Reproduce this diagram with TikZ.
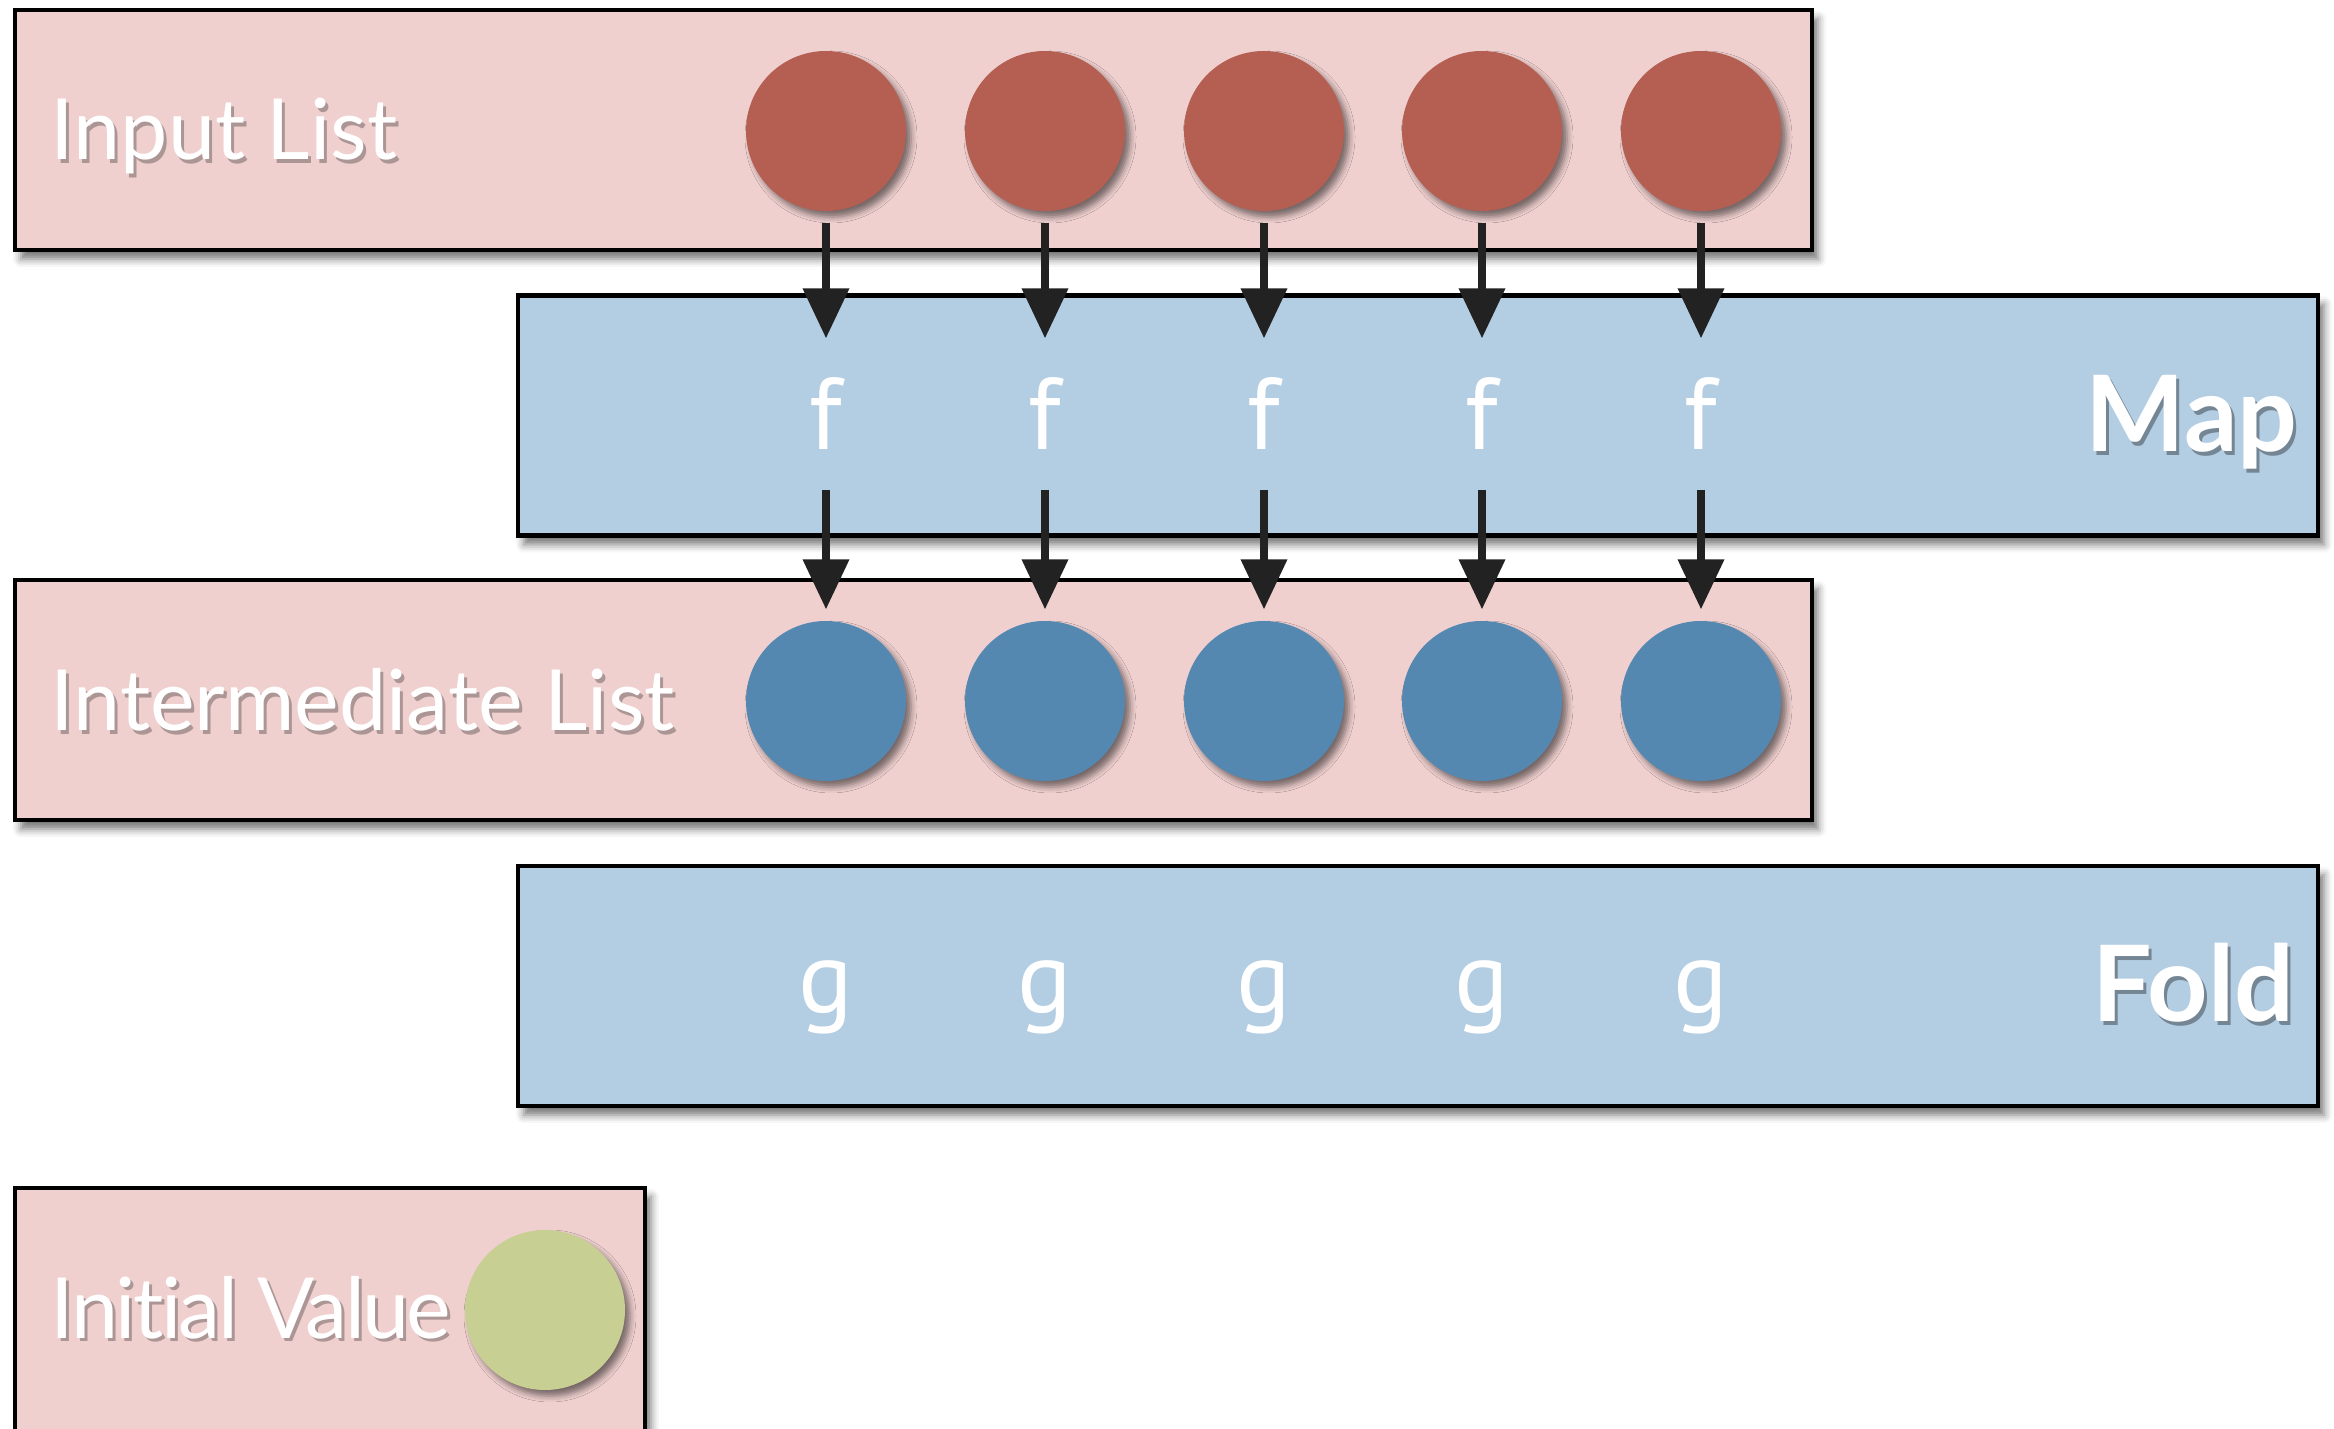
\documentclass[tikz,border=0pt]{standalone}
\usepackage{fontspec}
\setmainfont{Lato}[Ligatures=NoCommon]
\newfontfamily\fnfont{PT Sans}
\usetikzlibrary{arrows.meta,shadows.blur}

\definecolor{listpink}{HTML}{EFD0CF}
\definecolor{stepblue}{HTML}{B3CDE3}
\definecolor{inred}{HTML}{B55F52}
\definecolor{midblue}{HTML}{5488B1}
\definecolor{initgreen}{HTML}{C8CF93}
\definecolor{arrowgray}{HTML}{222222}

% white text with a soft offset copy behind it
\newcommand{\txtshadow}[2]{\rlap{\hspace{0.03cm}\raisebox{-0.035cm}{\textcolor{#1}{#2}}}#2}

\tikzset{
  listbox/.style={draw=black, line width=1.4pt, fill=listpink,
    minimum width=17.97cm, minimum height=2.4cm,
    blur shadow={shadow xshift=0.06cm, shadow yshift=-0.09cm, shadow blur radius=0.08cm, shadow opacity=55}},
  stepbox/.style={listbox, fill=stepblue, minimum width=18cm},
  elem/.style={circle, minimum size=1.6cm, inner sep=0pt,
    blur shadow={shadow xshift=0.05cm, shadow yshift=-0.06cm, shadow blur radius=0.06cm, shadow opacity=50}},
  fn/.style={text=white, inner sep=0pt, font=\fnfont\fontsize{29}{34}\selectfont},
  lbl/.style={text=white, inner sep=0pt, anchor=base west, font=\fontsize{24}{29}\selectfont},
  stage/.style={text=white, inner sep=0pt, anchor=base east, font=\fontsize{30}{34}\selectfont\bfseries},
  flow/.style={->, arrowgray, line width=2.1pt},
  >={Triangle[width=0.45cm, length=0.5cm]}
}

\begin{document}
\begin{tikzpicture}
    \useasboundingbox (0,0) rectangle (23.34,14.28);

    % boxes
    \node[listbox] (input) at (9.135,12.98) {};
    \node[stepbox] (map) at (14.18,10.125) {};
    \node[listbox] (inter) at (9.135,7.28) {};
    \node[stepbox] (fold) at (14.18,4.42) {};
    \node[listbox, minimum width=6.3cm, minimum height=2.6cm] (init) at (3.30,1.10) {};

    % box labels
    \node[lbl] (inputlbl) at (0.50,12.68) {\txtshadow{listpink!72!black}{Input List}};
    \node[lbl] (interlbl) at (0.50,6.97) {\txtshadow{listpink!72!black}{Intermediate List}};
    \node[lbl] (initlbl) at (0.50,0.90) {\addfontfeatures{LetterSpace=-3}\txtshadow{listpink!72!black}{Initial Value}};
    \node[stage] (maplbl) at (22.98,9.76) {\txtshadow{stepblue!65!black}{Map}};
    \node[stage] (foldlbl) at (22.95,4.06) {\txtshadow{stepblue!65!black}{Fold}};

    % input elements
    \node[elem, fill=inred] (in1) at (8.26,12.97) {};
    \node[elem, fill=inred] (in2) at (10.45,12.97) {};
    \node[elem, fill=inred] (in3) at (12.64,12.97) {};
    \node[elem, fill=inred] (in4) at (14.82,12.97) {};
    \node[elem, fill=inred] (in5) at (17.01,12.97) {};

    % mapped function
    \node[fn, minimum height=1.5cm] (f1) at (8.26,10.14) {f};
    \node[fn, minimum height=1.5cm] (f2) at (10.45,10.14) {f};
    \node[fn, minimum height=1.5cm] (f3) at (12.64,10.14) {f};
    \node[fn, minimum height=1.5cm] (f4) at (14.82,10.14) {f};
    \node[fn, minimum height=1.5cm] (f5) at (17.01,10.14) {f};

    % intermediate elements
    \node[elem, fill=midblue] (mid1) at (8.26,7.27) {};
    \node[elem, fill=midblue] (mid2) at (10.45,7.27) {};
    \node[elem, fill=midblue] (mid3) at (12.64,7.27) {};
    \node[elem, fill=midblue] (mid4) at (14.82,7.27) {};
    \node[elem, fill=midblue] (mid5) at (17.01,7.27) {};

    % fold function
    \node[fn, anchor=base] (g1) at (8.26,4.15) {g};
    \node[fn, anchor=base] (g2) at (10.45,4.15) {g};
    \node[fn, anchor=base] (g3) at (12.64,4.15) {g};
    \node[fn, anchor=base] (g4) at (14.82,4.15) {g};
    \node[fn, anchor=base] (g5) at (17.01,4.15) {g};

    \node[elem, fill=initgreen] (seed) at (5.45,1.18) {};

    % input -> f
    \draw[flow, shorten <=0.11cm] (in1) -- (f1);
    \draw[flow, shorten <=0.11cm] (in2) -- (f2);
    \draw[flow, shorten <=0.11cm] (in3) -- (f3);
    \draw[flow, shorten <=0.11cm] (in4) -- (f4);
    \draw[flow, shorten <=0.11cm] (in5) -- (f5);

    % f -> intermediate
    \draw[flow, shorten >=0.11cm] (f1) -- (mid1);
    \draw[flow, shorten >=0.11cm] (f2) -- (mid2);
    \draw[flow, shorten >=0.11cm] (f3) -- (mid3);
    \draw[flow, shorten >=0.11cm] (f4) -- (mid4);
    \draw[flow, shorten >=0.11cm] (f5) -- (mid5);
  \end{tikzpicture}
\end{document}
